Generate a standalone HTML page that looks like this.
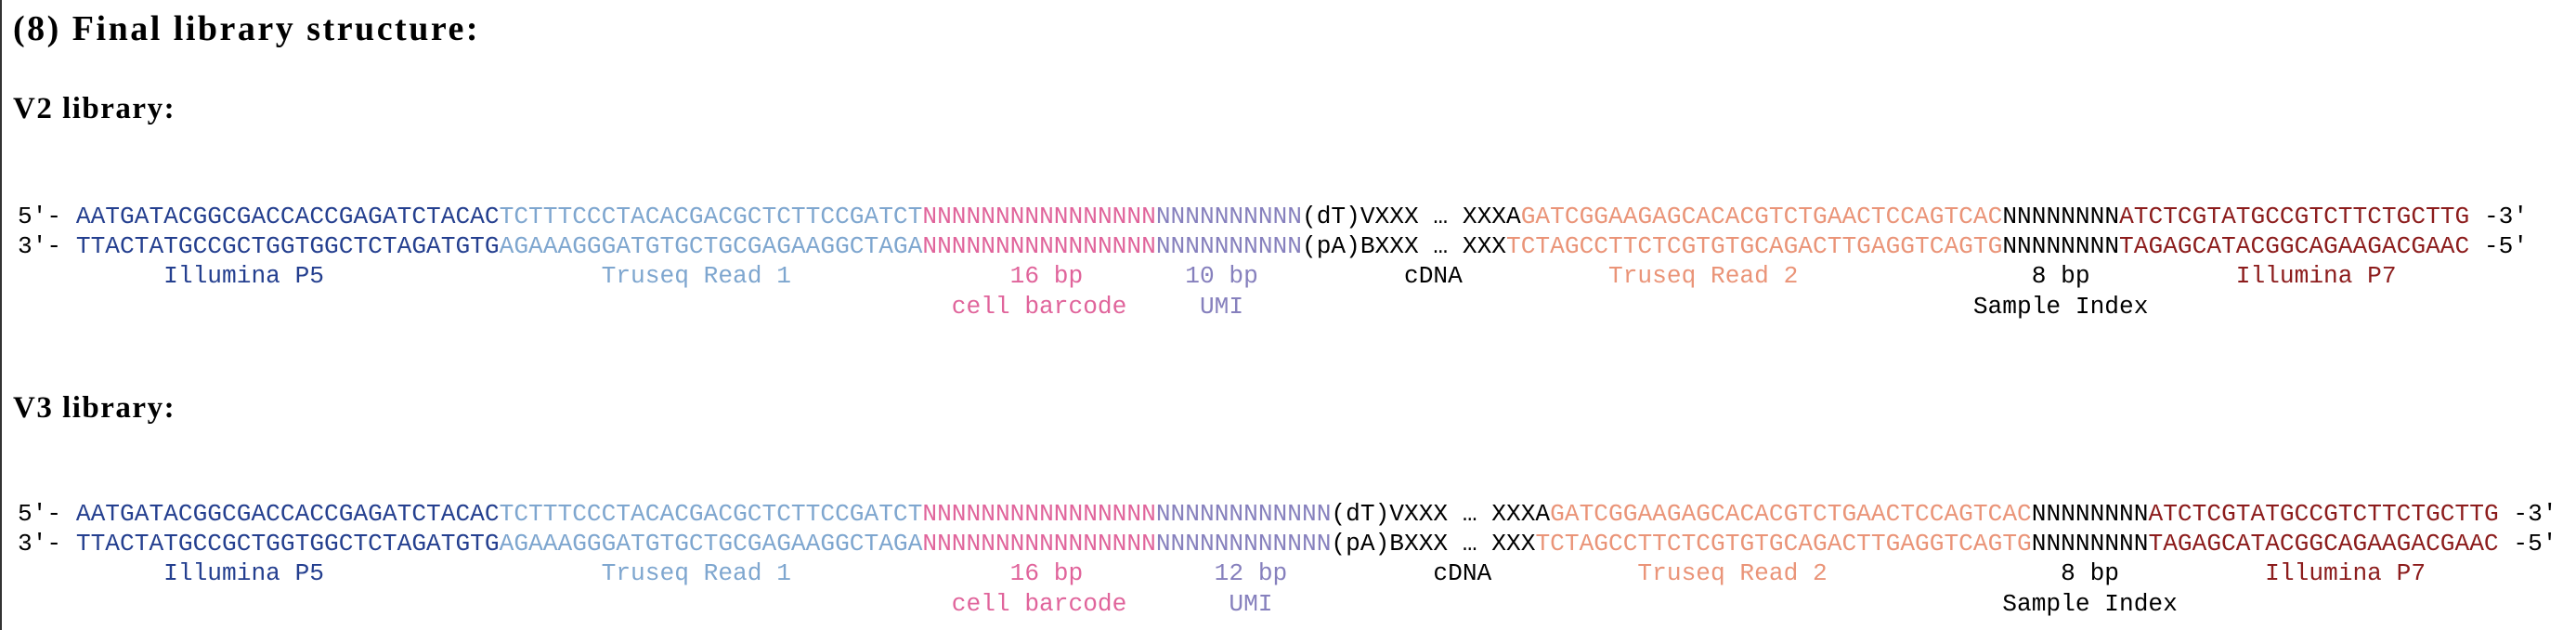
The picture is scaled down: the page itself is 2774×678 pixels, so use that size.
<!DOCTYPE html>
<html><head><meta charset="utf-8"><style>
html,body{margin:0;padding:0;background:#fff;}
body{width:2774px;height:678px;position:relative;overflow:hidden;border-left:2px solid #333;box-sizing:border-box;}
.h{position:absolute;left:12px;font-family:"Liberation Serif",serif;font-weight:bold;color:#000;white-space:nowrap;line-height:1;}
pre{position:absolute;left:17px;margin:0;font-family:"Liberation Mono",monospace;font-size:26.2px;line-height:32.2px;color:#000;}
.a{color:#243f8f}.b{color:#7ea6cf}.c{color:#e0649b}.d{color:#8680bd}.e{color:#ea9478}.f{color:#8c1c1c}
</style></head><body>
<div class="h" style="top:12px;font-size:38px;letter-spacing:2.5px;">(8) Final library structure:</div>
<div class="h" style="top:101px;font-size:33px;letter-spacing:1.5px;">V2 library:</div>
<div class="h" style="top:423px;font-size:33px;letter-spacing:1.5px;">V3 library:</div>
<pre style="top:217px;">5'- <span class="a">AATGATACGGCGACCACCGAGATCTACAC</span><span class="b">TCTTTCCCTACACGACGCTCTTCCGATCT</span><span class="c">NNNNNNNNNNNNNNNN</span><span class="d">NNNNNNNNNN</span>(dT)VXXX … XXXA<span class="e">GATCGGAAGAGCACACGTCTGAACTCCAGTCAC</span>NNNNNNNN<span class="f">ATCTCGTATGCCGTCTTCTGCTTG</span> -3'
3'- <span class="a">TTACTATGCCGCTGGTGGCTCTAGATGTG</span><span class="b">AGAAAGGGATGTGCTGCGAGAAGGCTAGA</span><span class="c">NNNNNNNNNNNNNNNN</span><span class="d">NNNNNNNNNN</span>(pA)BXXX … XXX<span class="e">TCTAGCCTTCTCGTGTGCAGACTTGAGGTCAGTG</span>NNNNNNNN<span class="f">TAGAGCATACGGCAGAAGACGAAC</span> -5'
          <span class="a">Illumina P5</span>                   <span class="b">Truseq Read 1</span>               <span class="c">16 bp</span>       <span class="d">10 bp</span>          cDNA          <span class="e">Truseq Read 2</span>                8 bp          <span class="f">Illumina P7</span>
                                                                <span class="c">cell barcode</span>     <span class="d">UMI</span>                                                  Sample Index</pre>
<pre style="top:537px;">5'- <span class="a">AATGATACGGCGACCACCGAGATCTACAC</span><span class="b">TCTTTCCCTACACGACGCTCTTCCGATCT</span><span class="c">NNNNNNNNNNNNNNNN</span><span class="d">NNNNNNNNNNNN</span>(dT)VXXX … XXXA<span class="e">GATCGGAAGAGCACACGTCTGAACTCCAGTCAC</span>NNNNNNNN<span class="f">ATCTCGTATGCCGTCTTCTGCTTG</span> -3'
3'- <span class="a">TTACTATGCCGCTGGTGGCTCTAGATGTG</span><span class="b">AGAAAGGGATGTGCTGCGAGAAGGCTAGA</span><span class="c">NNNNNNNNNNNNNNNN</span><span class="d">NNNNNNNNNNNN</span>(pA)BXXX … XXX<span class="e">TCTAGCCTTCTCGTGTGCAGACTTGAGGTCAGTG</span>NNNNNNNN<span class="f">TAGAGCATACGGCAGAAGACGAAC</span> -5'
          <span class="a">Illumina P5</span>                   <span class="b">Truseq Read 1</span>               <span class="c">16 bp</span>         <span class="d">12 bp</span>          cDNA          <span class="e">Truseq Read 2</span>                8 bp          <span class="f">Illumina P7</span>
                                                                <span class="c">cell barcode</span>       <span class="d">UMI</span>                                                  Sample Index</pre>
</body></html>
